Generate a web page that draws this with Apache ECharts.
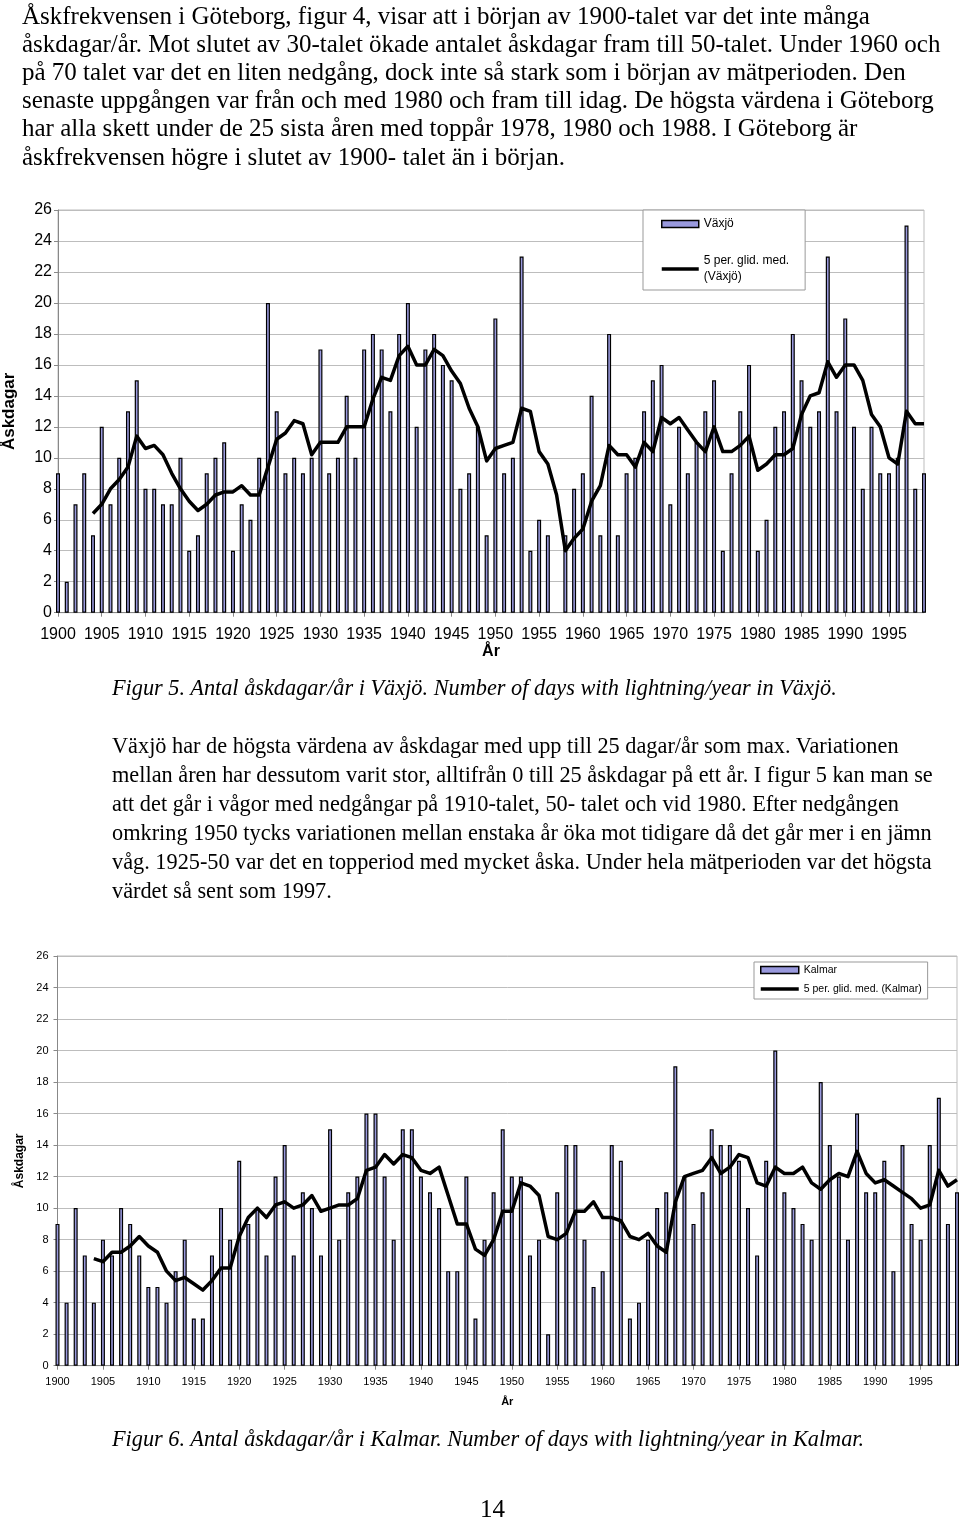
<!DOCTYPE html>
<html>
<head>
<meta charset="utf-8">
<script src="https://cdn.jsdelivr.net/npm/echarts@6.0.0/dist/echarts.min.js"></script>
<style>
html,body{margin:0;padding:0;background:#fff;}
#page{position:relative;width:960px;height:1521px;overflow:hidden;background:#fff;}
#chart{position:absolute;left:0;top:0;width:960px;height:1521px;}
.t{position:absolute;white-space:nowrap;font-family:'Liberation Serif','Times New Roman',serif;font-size:25px;line-height:28px;color:#000;z-index:2;}
.s{font-size:22.3px;}
.i{font-style:italic;}
</style>
</head>
<body>
<div id="page">
<div id="chart"></div>
<div class="t" style="left:22px;top:1.6px">Åskfrekvensen i Göteborg, figur 4, visar att i början av 1900-talet var det inte många</div>
<div class="t" style="left:22px;top:29.8px">åskdagar/år. Mot slutet av 30-talet ökade antalet åskdagar fram till 50-talet. Under 1960 och</div>
<div class="t" style="left:22px;top:58px">på 70 talet var det en liten nedgång, dock inte så stark som i början av mätperioden. Den</div>
<div class="t" style="left:22px;top:86.2px">senaste uppgången var från och med 1980 och fram till idag. De högsta värdena i Göteborg</div>
<div class="t" style="left:22px;top:114.4px">har alla skett under de 25 sista åren med toppår 1978, 1980 och 1988. I Göteborg är</div>
<div class="t" style="left:22px;top:142.6px">åskfrekvensen högre i slutet av 1900- talet än i början.</div>

<div class="t s i" style="left:112px;top:674px">Figur 5. Antal åskdagar/år i Växjö. Number of days with lightning/year in Växjö.</div>

<div class="t s" style="left:112px;top:731.5px">Växjö har de högsta värdena av åskdagar med upp till 25 dagar/år som max. Variationen</div>
<div class="t s" style="left:112px;top:760.5px">mellan åren har dessutom varit stor, alltifrån 0 till 25 åskdagar på ett år. I figur 5 kan man se</div>
<div class="t s" style="left:112px;top:789.5px">att det går i vågor med nedgångar på 1910-talet, 50- talet och vid 1980. Efter nedgången</div>
<div class="t s" style="left:112px;top:818.5px">omkring 1950 tycks variationen mellan enstaka år öka mot tidigare då det går mer i en jämn</div>
<div class="t s" style="left:112px;top:847.5px">våg. 1925-50 var det en topperiod med mycket åska. Under hela mätperioden var det högsta</div>
<div class="t s" style="left:112px;top:876.5px">värdet så sent som 1997.</div>

<div class="t s i" style="left:112px;top:1424.5px">Figur 6. Antal åskdagar/år i Kalmar. Number of days with lightning/year in Kalmar.</div>
<div class="t" style="left:480px;top:1494.6px">14</div>
</div>

<script>
// ---- data ----
const years = [
  '1900','1901','1902','1903','1904','1905','1906','1907','1908','1909',
  '1910','1911','1912','1913','1914','1915','1916','1917','1918','1919',
  '1920','1921','1922','1923','1924','1925','1926','1927','1928','1929',
  '1930','1931','1932','1933','1934','1935','1936','1937','1938','1939',
  '1940','1941','1942','1943','1944','1945','1946','1947','1948','1949',
  '1950','1951','1952','1953','1954','1955','1956','1957','1958','1959',
  '1960','1961','1962','1963','1964','1965','1966','1967','1968','1969',
  '1970','1971','1972','1973','1974','1975','1976','1977','1978','1979',
  '1980','1981','1982','1983','1984','1985','1986','1987','1988','1989',
  '1990','1991','1992','1993','1994','1995','1996','1997','1998','1999'
];
const vaxjo = [
  9, 2, 7, 9, 5, 12, 7, 10, 13, 15,
  8, 8, 7, 7, 10, 4, 5, 9, 10, 11,
  4, 7, 6, 10, 20, 13, 9, 10, 9, 10,
  17, 9, 10, 14, 10, 17, 18, 17, 13, 18,
  20, 12, 17, 18, 16, 15, 8, 9, 12, 5,
  19, 9, 10, 23, 4, 6, 5, 0, 5, 8,
  9, 14, 5, 18, 5, 9, 10, 13, 15, 16,
  7, 12, 9, 11, 13, 15, 4, 9, 13, 16,
  4, 6, 12, 13, 18, 15, 12, 13, 23, 13,
  19, 12, 8, 12, 9, 9, 10, 25, 8, 9
];
const kalmar = [
  9, 4, 10, 7, 4, 8, 7, 10, 9, 7,
  5, 5, 4, 6, 8, 3, 3, 7, 10, 8,
  13, 9, 10, 7, 12, 14, 7, 11, 10, 7,
  15, 8, 11, 12, 16, 16, 12, 8, 15, 15,
  12, 11, 10, 6, 6, 12, 3, 8, 11, 15,
  12, 12, 7, 8, 2, 11, 14, 14, 8, 5,
  6, 14, 13, 3, 4, 8, 10, 11, 19, 12,
  9, 11, 15, 14, 14, 13, 10, 7, 13, 20,
  11, 10, 9, 8, 18, 14, 12, 8, 16, 11,
  11, 13, 6, 14, 9, 8, 14, 17, 9, 11
];
const seriesNames = {
  vBar: 'Växjö', vAvg: '5 per. glid. med. (Växjö)',
  kBar: 'Kalmar', kAvg: '5 per. glid. med. (Kalmar)'
};
const axisNames = { x: 'År', y: 'Åskdagar' };

// Excel-style trailing 5-period moving average ("5 per. glid. med.") of the bar data
function movingAverage(arr, n) {
  return arr.map(function (v, i) {
    if (i < n - 1) return null;
    let s = 0;
    for (let k = i - n + 1; k <= i; k++) s += arr[k];
    return s / n;
  });
}

// ---- styling ----
const FONT = "'Liberation Sans', Arial, Helvetica, sans-serif";
const BAR = '#9999dd';
const GRIDC = '#bdbdbd';
const AXC = '#888888';

function mkX(gi, fs, margin, nfs, ngap) {
  return {
    type: 'category', gridIndex: gi, data: years, boundaryGap: false,
    axisLine: { show: true, onZero: true, lineStyle: { color: AXC, width: 1 } },
    axisTick: { show: true, interval: 4, length: 4, inside: false, lineStyle: { color: AXC } },
    axisLabel: { interval: 4, fontSize: fs, margin: margin, color: '#000', fontFamily: FONT, hideOverlap: false },
    splitLine: { show: false },
    name: axisNames.x, nameLocation: 'middle', nameGap: ngap,
    nameTextStyle: { fontSize: nfs, fontWeight: 'bold', color: '#000', fontFamily: FONT }
  };
}
function mkY(gi, fs, margin, nfs, ngap, nweight) {
  return {
    type: 'value', gridIndex: gi, min: 0, max: 26, interval: 2,
    axisLine: { show: true, lineStyle: { color: AXC, width: 1 } },
    axisTick: { show: true, length: 4, inside: false, lineStyle: { color: AXC } },
    axisLabel: { fontSize: fs, margin: margin, color: '#000', fontFamily: FONT, showMinLabel: true, showMaxLabel: true },
    splitLine: { show: true, lineStyle: { color: GRIDC, width: 1 } },
    name: axisNames.y, nameLocation: 'middle', nameGap: ngap,
    nameTextStyle: { fontSize: nfs, fontWeight: nweight, color: '#000', fontFamily: FONT }
  };
}
function barData(arr) {
  // a zero-day year draws no bar outline
  return arr.map(function (v) { return v === 0 ? { value: v, itemStyle: { borderWidth: 0 } } : v; });
}

const barLegendStyle = { color: BAR, borderColor: '#000', borderWidth: 1.5 };
const lineLegendItem = function (name) {
  return { name: name, itemStyle: { opacity: 0 }, lineStyle: { color: '#000', width: 3.5 } };
};

const option = {
  animation: false,
  backgroundColor: 'transparent',
  textStyle: { fontFamily: FONT },
  grid: [
    { left: 58, top: 210, width: 866, height: 402.7, show: true, borderColor: GRIDC, borderWidth: 1, containLabel: false, outerBoundsMode: 'none' },
    { left: 57.5, top: 956, width: 899.5, height: 409.7, show: true, borderColor: GRIDC, borderWidth: 1, containLabel: false, outerBoundsMode: 'none' }
  ],
  xAxis: [ mkX(0, 16, 14, 16, 31), mkX(1, 11, 10.5, 11, 31) ],
  yAxis: [ mkY(0, 16, 6, 17, 40, 'bold'), mkY(1, 11, 9, 12, 31, 'bold') ],
  legend: [
    {
      orient: 'vertical', left: 643, top: 210, padding: [6, 16, 5, 17], itemGap: 21,
      itemWidth: 37, itemHeight: 7, backgroundColor: '#fff', borderColor: '#999', borderWidth: 1,
      selectedMode: false,
      textStyle: { fontSize: 12, color: '#000', fontFamily: FONT, lineHeight: 16 },
      formatter: function (n) { return n.replace(' (', '\n('); },
      data: [ { name: seriesNames.vBar, icon: 'rect', itemStyle: barLegendStyle }, lineLegendItem(seriesNames.vAvg) ]
    },
    {
      orient: 'vertical', left: 754, top: 962, padding: [2, 6, 4, 5], itemGap: 7,
      itemWidth: 38, itemHeight: 7, backgroundColor: '#fff', borderColor: '#999', borderWidth: 1,
      selectedMode: false,
      textStyle: { fontSize: 10.5, color: '#000', fontFamily: FONT, lineHeight: 12 },
      data: [ { name: seriesNames.kBar, icon: 'rect', itemStyle: barLegendStyle }, lineLegendItem(seriesNames.kAvg) ]
    }
  ],
  series: [
    {
      type: 'bar', name: seriesNames.vBar, xAxisIndex: 0, yAxisIndex: 0, data: barData(vaxjo),
      barWidth: 4, clip: true, z: 2,
      itemStyle: { color: BAR, borderColor: '#000', borderWidth: 1.2 }
    },
    {
      type: 'line', name: seriesNames.vAvg, xAxisIndex: 0, yAxisIndex: 0, data: movingAverage(vaxjo, 5),
      symbol: 'none', clip: true, z: 3,
      lineStyle: { color: '#000', width: 3.5, join: 'round' }, itemStyle: { color: '#000' }
    },
    {
      type: 'bar', name: seriesNames.kBar, xAxisIndex: 1, yAxisIndex: 1, data: barData(kalmar),
      barWidth: 4, clip: true, z: 2,
      itemStyle: { color: BAR, borderColor: '#000', borderWidth: 1.2 }
    },
    {
      type: 'line', name: seriesNames.kAvg, xAxisIndex: 1, yAxisIndex: 1, data: movingAverage(kalmar, 5),
      symbol: 'none', clip: true, z: 3,
      lineStyle: { color: '#000', width: 3.5, join: 'round' }, itemStyle: { color: '#000' }
    }
  ]
};

const chart = echarts.init(document.getElementById('chart'), null, { renderer: 'canvas', width: 960, height: 1521 });
chart.setOption(option);
</script>
</body>
</html>
